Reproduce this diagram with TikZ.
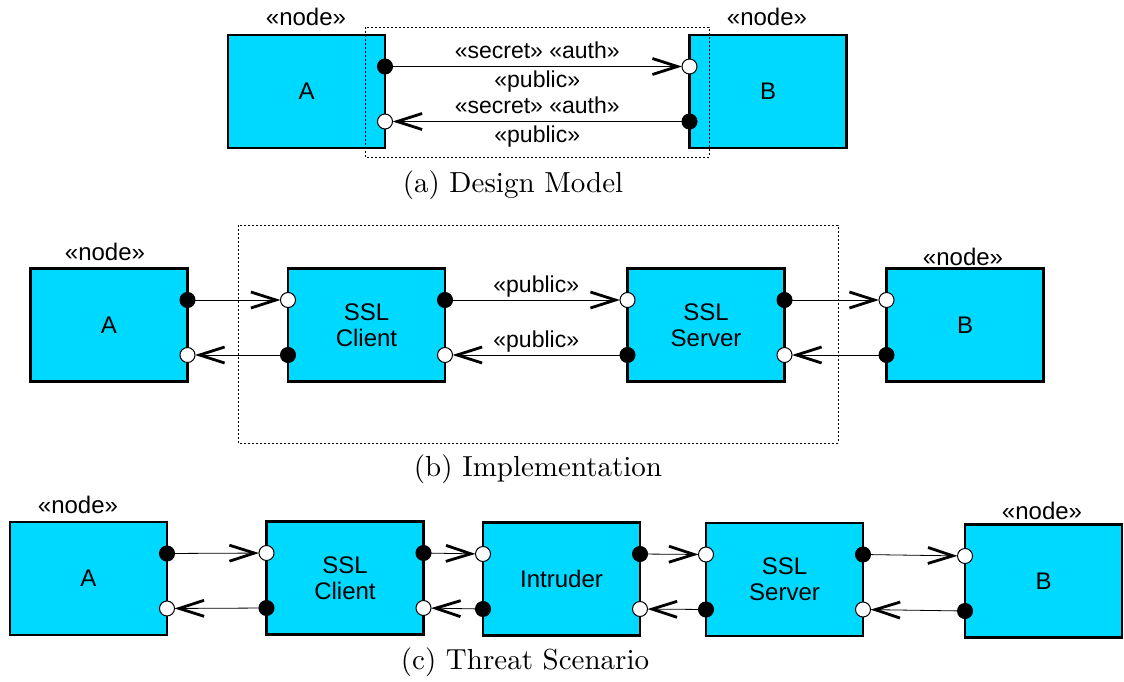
\documentclass[tikz,border=0pt]{standalone}
\usepackage{fontspec}
\setsansfont{Liberation Sans}
\newfontfamily\capfont{lmroman10-regular.otf}
\usepackage{tikz}
\usetikzlibrary{arrows.meta,calc}

\definecolor{nodecyan}{RGB}{0,217,255}

\tikzset{
  umlnode/.style={draw=black, fill=nodecyan, line width=2.2pt, minimum width=157pt,
    minimum height=113pt, inner sep=0pt, outer sep=0pt, align=center,
    font=\sffamily\fontsize{24}{26}\selectfont},
  stereo/.style={inner sep=0pt, font=\sffamily\fontsize{24}{26}\selectfont},
  linklabel/.style={inner sep=1pt, font=\sffamily\fontsize{23}{25}\selectfont},
  outport/.style={circle, draw=black, fill=black, line width=1pt, minimum size=15pt,
    inner sep=0pt, outer sep=0pt},
  inport/.style={outport, fill=white},
  link/.style={draw=black, line width=0.8pt,
    -{Straight Barb[length=25pt,width=16pt,line width=2.8pt]}},
  boundary/.style={draw=black, line width=0.8pt, dash pattern=on 2pt off 2pt},
  caption/.style={inner sep=0pt, font=\capfont\fontsize{29}{32}\selectfont}
}

\begin{document}
\begin{tikzpicture}[y=1pt, x=1pt, yscale=-1]
  \useasboundingbox (0,0) rectangle (1124,682);

  % (a) design model
  \node[umlnode] (aA) at (306.5,91.5) {A};
  \node[umlnode] (aB) at (768,91.5) {B};
  \node[stereo] (aAst) at (306,17) {«node»};
  \node[stereo] (aBst) at (767,17) {«node»};
  \path[boundary] (365,27) rectangle (709,157);
  \node[outport] (aAo) at ($(aA.east)+(0,-25)$) {};
  \node[inport] (aAi) at ($(aA.east)+(0,30)$) {};
  \node[inport] (aBi) at ($(aB.west)+(0,-25)$) {};
  \node[outport] (aBo) at ($(aB.west)+(0,30)$) {};
  \path[link] (aAo) -- node[linklabel, above=6pt] {«secret» «auth»}
    node[linklabel, below=3pt] {«public»} (aBi);
  \path[link] (aBo) -- node[linklabel, above=6pt] {«secret» «auth»}
    node[linklabel, below=3pt] {«public»} (aAi);
  \node[caption] (capa) at (513,185) {(a) Design Model};

  % (b) implementation
  \node[umlnode] (bA) at (109,325) {A};
  \node[umlnode] (bC) at (366.5,325) {SSL\\Client};
  \node[umlnode] (bS) at (706,325) {SSL\\Server};
  \node[umlnode] (bB) at (965,325) {B};
  \node[stereo] (bAst) at (105,252) {«node»};
  \node[stereo] (bBst) at (963,257) {«node»};
  \path[boundary] (238,225) rectangle (838,443);
  \node[outport] (bAo) at ($(bA.east)+(0,-25)$) {};
  \node[inport] (bAi) at ($(bA.east)+(0,30)$) {};
  \node[inport] (bCwi) at ($(bC.west)+(0,-25)$) {};
  \node[outport] (bCwo) at ($(bC.west)+(0,30)$) {};
  \node[outport] (bCeo) at ($(bC.east)+(0,-25)$) {};
  \node[inport] (bCei) at ($(bC.east)+(0,30)$) {};
  \node[inport] (bSwi) at ($(bS.west)+(0,-25)$) {};
  \node[outport] (bSwo) at ($(bS.west)+(0,30)$) {};
  \node[outport] (bSeo) at ($(bS.east)+(0,-25)$) {};
  \node[inport] (bSei) at ($(bS.east)+(0,30)$) {};
  \node[inport] (bBi) at ($(bB.west)+(0,-25)$) {};
  \node[outport] (bBo) at ($(bB.west)+(0,30)$) {};
  \path[link] (bAo) -- (bCwi);
  \path[link] (bCwo) -- (bAi);
  \path[link] (bCeo) -- node[linklabel, above=1pt] {«public»} (bSwi);
  \path[link] (bSwo) -- node[linklabel, above=1pt] {«public»} (bCei);
  \path[link] (bSeo) -- (bBi);
  \path[link] (bBo) -- (bSei);
  \node[caption] (capb) at (538,469) {(b) Implementation};

  % (c) threat scenario
  \node[umlnode] (cA) at (88.5,578.5) {A};
  \node[umlnode] (cC) at (345,578) {SSL\\Client};
  \node[umlnode] (cI) at (561.5,579) {Intruder};
  \node[umlnode] (cS) at (784.5,579.5) {SSL\\Server};
  \node[umlnode] (cB) at (1043.5,581) {B};
  \node[stereo] (cAst) at (78,505) {«node»};
  \node[stereo] (cBst) at (1042,511) {«node»};
  \node[outport] (cAo) at ($(cA.east)+(0,-25)$) {};
  \node[inport] (cAi) at ($(cA.east)+(0,30)$) {};
  \node[inport] (cCwi) at ($(cC.west)+(0,-25)$) {};
  \node[outport] (cCwo) at ($(cC.west)+(0,30)$) {};
  \node[outport] (cCeo) at ($(cC.east)+(0,-25)$) {};
  \node[inport] (cCei) at ($(cC.east)+(0,30)$) {};
  \node[inport] (cIwi) at ($(cI.west)+(0,-25)$) {};
  \node[outport] (cIwo) at ($(cI.west)+(0,30)$) {};
  \node[outport] (cIeo) at ($(cI.east)+(0,-25)$) {};
  \node[inport] (cIei) at ($(cI.east)+(0,30)$) {};
  \node[inport] (cSwi) at ($(cS.west)+(0,-25)$) {};
  \node[outport] (cSwo) at ($(cS.west)+(0,30)$) {};
  \node[outport] (cSeo) at ($(cS.east)+(0,-25)$) {};
  \node[inport] (cSei) at ($(cS.east)+(0,30)$) {};
  \node[inport] (cBi) at ($(cB.west)+(0,-25)$) {};
  \node[outport] (cBo) at ($(cB.west)+(0,30)$) {};
  \path[link] (cAo) -- (cCwi);
  \path[link] (cCwo) -- (cAi);
  \path[link] (cCeo) -- (cIwi);
  \path[link] (cIwo) -- (cCei);
  \path[link] (cIeo) -- (cSwi);
  \path[link] (cSwo) -- (cIei);
  \path[link] (cSeo) -- (cBi);
  \path[link] (cBo) -- (cSei);
  \node[caption] (capc) at (525,662) {(c) Threat Scenario};
\end{tikzpicture}
\end{document}
